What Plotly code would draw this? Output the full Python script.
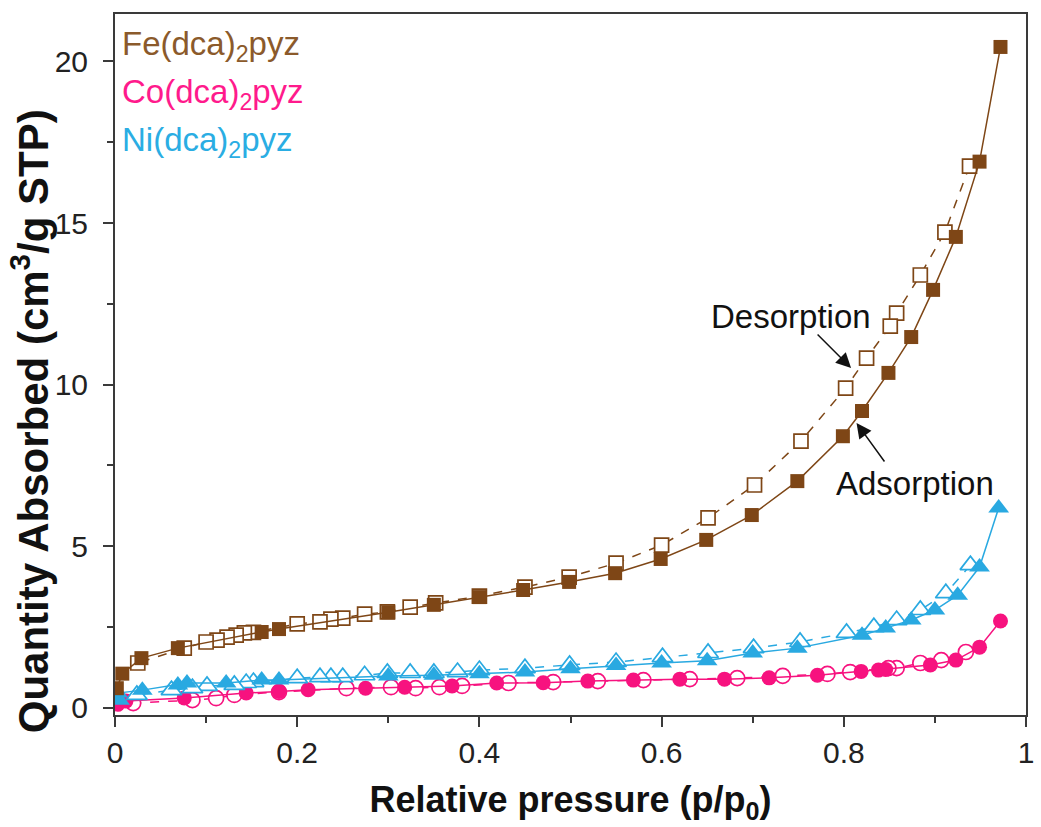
import plotly.graph_objects as go

# ---------------- data ----------------
fe_ads_x = [0.002, 0.008, 0.029, 0.069, 0.161, 0.18, 0.3, 0.35, 0.4, 0.448, 0.4985, 0.549, 0.599, 0.649,
            0.699, 0.749, 0.799, 0.82, 0.849, 0.874, 0.898, 0.923, 0.949, 0.972]
fe_ads_y = [0.6, 1.05, 1.53, 1.84, 2.34, 2.43, 2.95, 3.18, 3.42, 3.64, 3.89, 4.16, 4.6, 5.19,
            5.96, 7.01, 8.4, 9.18, 10.36, 11.47, 12.93, 14.57, 16.9, 20.45]

fe_des_x = [0.938, 0.911, 0.884, 0.858, 0.851, 0.825, 0.802, 0.753, 0.702, 0.651, 0.6, 0.55, 0.4985,
            0.45, 0.4, 0.352, 0.324, 0.299, 0.274, 0.25, 0.237, 0.225, 0.2, 0.152, 0.142, 0.133,
            0.123, 0.112, 0.1, 0.076, 0.025]
fe_des_y = [16.76, 14.72, 13.39, 12.21, 11.81, 10.82, 9.89, 8.25, 6.89, 5.87, 5.03, 4.47, 4.04,
            3.73, 3.45, 3.24, 3.11, 2.96, 2.89, 2.77, 2.74, 2.65, 2.59, 2.33, 2.31, 2.24,
            2.18, 2.09, 2.03, 1.84, 1.38]

co_ads_x = [0.003, 0.012, 0.076, 0.144, 0.18, 0.212, 0.275, 0.318, 0.37, 0.419, 0.47, 0.519, 0.569,
            0.62, 0.669, 0.718, 0.771, 0.819, 0.838, 0.846, 0.895, 0.923, 0.949, 0.972]
co_ads_y = [0.1, 0.2, 0.3, 0.45, 0.5, 0.55, 0.6, 0.63, 0.67, 0.76, 0.77, 0.82, 0.85,
            0.88, 0.88, 0.92, 1.0, 1.12, 1.16, 1.18, 1.32, 1.47, 1.87, 2.68]

co_des_x = [0.934, 0.907, 0.884, 0.858, 0.849, 0.807, 0.782, 0.733, 0.683, 0.631, 0.58, 0.53, 0.481,
            0.432, 0.381, 0.356, 0.33, 0.303, 0.254, 0.18, 0.131, 0.111, 0.085, 0.02]
co_des_y = [1.72, 1.47, 1.38, 1.22, 1.22, 1.1, 1.04, 0.98, 0.91, 0.88, 0.85, 0.82, 0.79,
            0.76, 0.67, 0.63, 0.6, 0.63, 0.6, 0.48, 0.39, 0.29, 0.23, 0.14]

ni_ads_x = [0.005, 0.003, 0.03, 0.069, 0.079, 0.122, 0.161, 0.18, 0.3, 0.35, 0.4, 0.45, 0.5, 0.55,
            0.6, 0.65, 0.7, 0.749, 0.82, 0.846, 0.874, 0.9, 0.925, 0.949, 0.97]
ni_ads_y = [0.23, 0.45, 0.54, 0.7, 0.76, 0.76, 0.85, 0.85, 0.98, 1.0, 1.05, 1.1, 1.2, 1.3,
            1.38, 1.45, 1.69, 1.84, 2.24, 2.46, 2.71, 3.02, 3.48, 4.35, 6.18]

ni_des_x = [0.939, 0.912, 0.884, 0.858, 0.833, 0.803, 0.752, 0.701, 0.651, 0.601, 0.55, 0.499, 0.45,
            0.4, 0.376, 0.35, 0.324, 0.299, 0.274, 0.25, 0.237, 0.225, 0.2, 0.152, 0.144, 0.131,
            0.101, 0.085, 0.062, 0.024]
ni_des_y = [4.41, 3.54, 3.02, 2.71, 2.49, 2.31, 2.03, 1.84, 1.69, 1.56, 1.41, 1.32, 1.22,
            1.16, 1.1, 1.07, 1.07, 1.07, 1.0, 0.94, 0.94, 0.94, 0.91, 0.79, 0.76, 0.7,
            0.67, 0.6, 0.54, 0.39]

series_names = ["Fe(dca)<sub>2</sub>pyz", "Co(dca)<sub>2</sub>pyz", "Ni(dca)<sub>2</sub>pyz"]
x_title = "Relative pressure (p/p<sub>0</sub>)"
y_title = "Quantity Absorbed (cm<sup>3</sup>/g STP)"

# ---------------- styles ----------------
FE = "#7E4616"
FE_TXT = "#8B5A2B"
CO = "#F7127F"
CO_TXT = "#FF1A8C"
NI = "#29A9E1"
NI_TXT = "#2AADE3"
FONT = "Arial, Liberation Sans, sans-serif"
AX = "#3a3a3a"

fig = go.Figure()


def add_pair(ax, ay, dx, dy, color, symbol, size, name):
    fig.add_trace(go.Scatter(
        x=dx, y=dy, mode="lines+markers", name=name + " des", showlegend=False,
        line=dict(color=color, width=1.5, dash="dash"),
        marker=dict(symbol=symbol, size=size, color="white",
                    line=dict(color=color, width=1.7)),
    ))
    fig.add_trace(go.Scatter(
        x=ax, y=ay, mode="lines+markers", name=name + " ads", showlegend=False,
        line=dict(color=color, width=1.5),
        marker=dict(symbol=symbol, size=size, color=color, line=dict(width=0)),
    ))


add_pair(co_ads_x, co_ads_y, co_des_x, co_des_y, CO, "circle", 15, "Co")
add_pair(ni_ads_x, ni_ads_y, ni_des_x, ni_des_y, NI, "triangle-up", 18, "Ni")
add_pair(fe_ads_x, fe_ads_y, fe_des_x, fe_des_y, FE, "square", 14, "Fe")

axis_common = dict(
    showline=True, linecolor=AX, linewidth=2, mirror=True,
    ticks="outside", tickcolor=AX, tickwidth=2, ticklen=10,
    showgrid=False, zeroline=False,
    tickfont=dict(family=FONT, size=30, color="#222222"),
)

fig.update_xaxes(
    range=[0, 1.0], dtick=0.2, tick0=0,
    minor=dict(dtick=0.1, ticklen=6, tickcolor=AX, tickwidth=2, ticks="outside"),
    title=dict(text=x_title,
               font=dict(family=FONT, size=36, color="#111111", weight="bold"), standoff=19),
    **axis_common,
)
fig.update_yaxes(
    range=[-0.23, 21.47], dtick=5, tick0=0,
    minor=dict(dtick=2.5, ticklen=6, tickcolor=AX, tickwidth=2, ticks="outside"),
    ticklabelstandoff=9,
    **axis_common,
)

# y-axis title as rotated text
fig.add_annotation(xref="paper", yref="paper", x=-0.0925, y=0.4187, text=y_title,
                   textangle=-90, showarrow=False, xanchor="center", yanchor="middle",
                   font=dict(family=FONT, size=42, color="#111111", weight="bold"))

# text legend
legend_colors = [FE_TXT, CO_TXT, NI_TXT]
legend_y = [0.954, 0.886, 0.818]
for name, col, yy in zip(series_names, legend_colors, legend_y):
    fig.add_annotation(xref="paper", yref="paper", x=0.006, y=yy, text=name,
                       showarrow=False, xanchor="left", yanchor="middle",
                       font=dict(family=FONT, size=33, color=col))

# arrows
fig.add_annotation(x=0.808, y=10.51, ax=-35, ay=-35, text="", showarrow=True,
                   arrowhead=2, arrowsize=2.0, arrowwidth=1.5, arrowcolor="#111111")
fig.add_annotation(x=0.814, y=8.81, ax=29, ay=40, text="", showarrow=True,
                   arrowhead=2, arrowsize=2.0, arrowwidth=1.5, arrowcolor="#111111")
fig.add_annotation(x=0.742, y=12.12, text="Desorption", showarrow=False,
                   font=dict(family=FONT, size=33, color="#111111"))
fig.add_annotation(x=0.878, y=6.95, text="Adsorption", showarrow=False,
                   font=dict(family=FONT, size=33, color="#111111"))

fig.update_layout(
    width=1041, height=827,
    margin=dict(l=115, r=7, t=14, b=112),
    paper_bgcolor="white", plot_bgcolor="white",
    showlegend=False,
)

fig.write_html("out.html")
